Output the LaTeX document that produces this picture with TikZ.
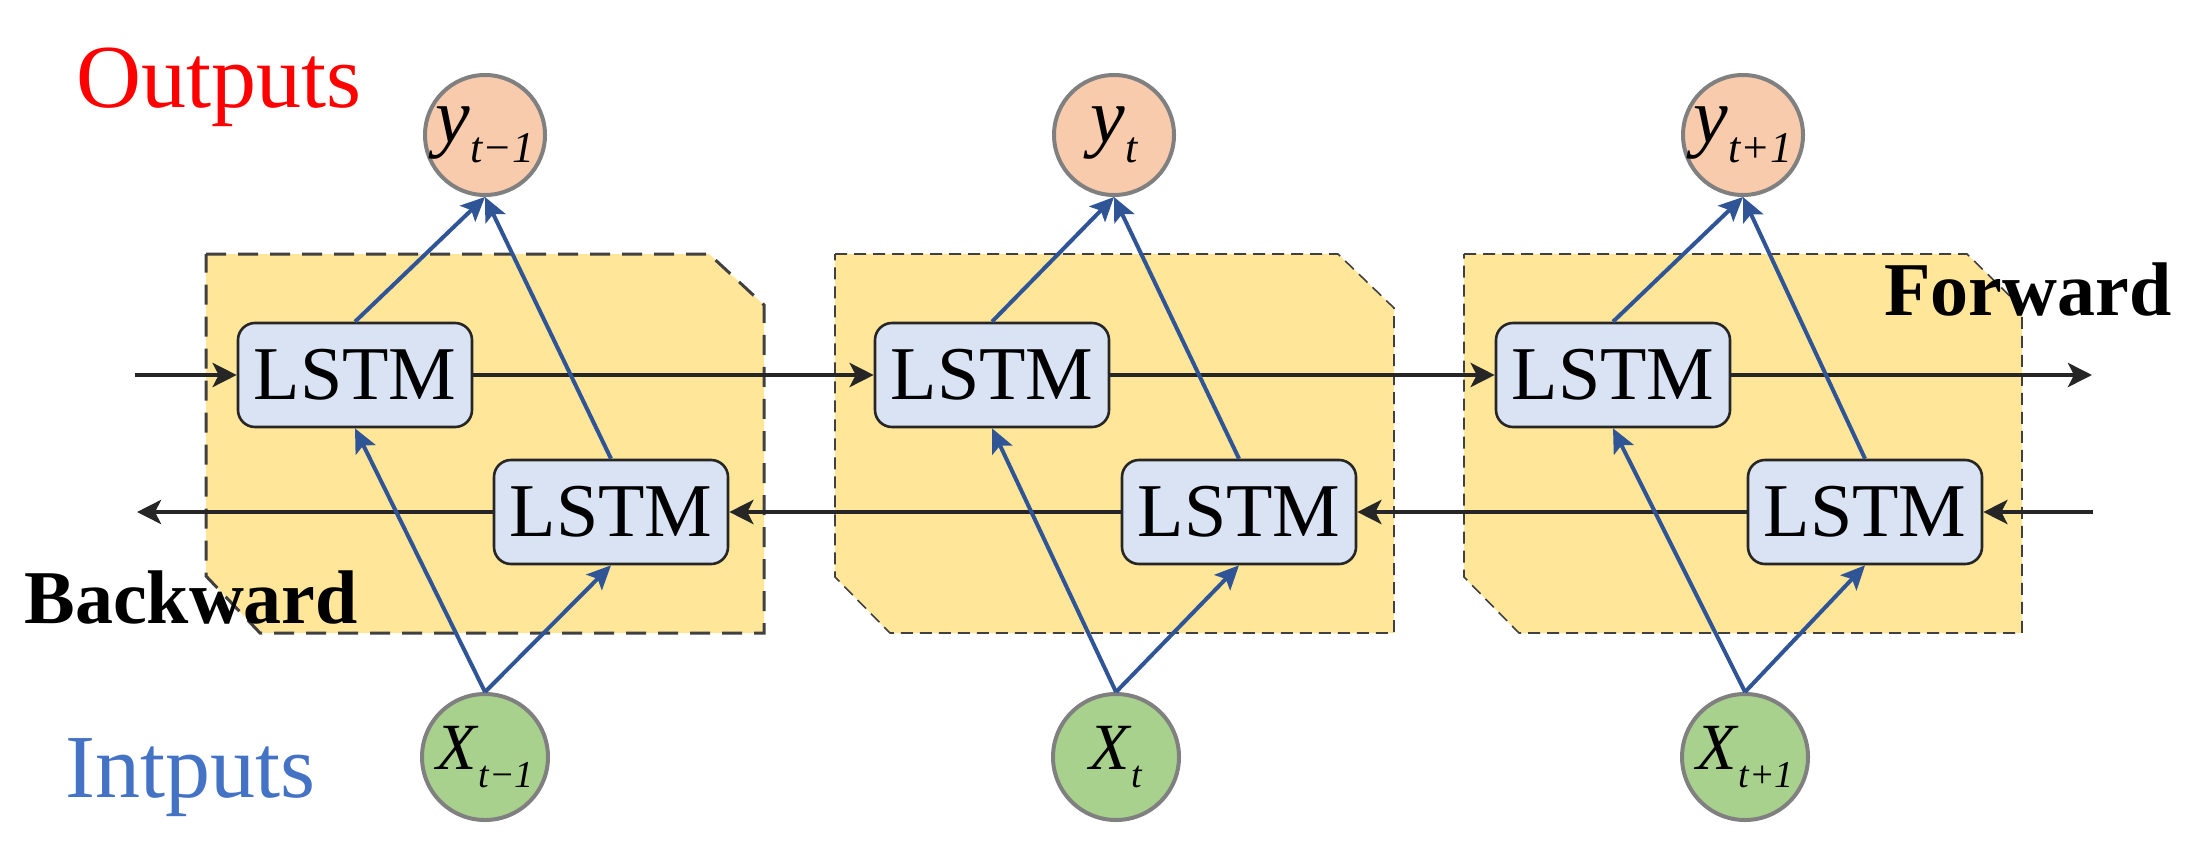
\documentclass[tikz,border=0pt]{standalone}
\usepackage{fontspec}
\setmainfont{Liberation Serif}
\usetikzlibrary{arrows.meta}
\definecolor{yframe}{HTML}{FFE699}
\definecolor{dashc}{HTML}{404040}
\definecolor{lstmfill}{HTML}{DAE3F3}
\definecolor{lstmdraw}{HTML}{262626}
\definecolor{outfill}{HTML}{F8CBAD}
\definecolor{infill}{HTML}{A9D18E}
\definecolor{ringc}{HTML}{808080}
\definecolor{blk}{HTML}{262626}
\definecolor{blu}{HTML}{2F5597}
\definecolor{outred}{HTML}{FF0000}
\definecolor{inblue}{HTML}{4472C4}
\newcommand\ylab[1]{{\fontsize{39pt}{39pt}\selectfont\itshape y\raisebox{-10pt}{\fontsize{22pt}{22pt}\selectfont #1}}}
\newcommand\xlab[1]{{\fontsize{33pt}{33pt}\selectfont\itshape X\kern1pt\raisebox{-9pt}{\fontsize{19pt}{19pt}\selectfont #1}}}
\begin{document}
\begin{tikzpicture}[x=0.5pt,y=-0.5pt,
  frame/.style={fill=yframe,draw=dashc},
  thickdash/.style={line width=1.5pt,dash pattern=on 10pt off 6pt},
  thindash/.style={line width=0.8pt,dash pattern=on 6pt off 3.5pt},
  lstm/.style={draw=lstmdraw,line width=1.3pt,fill=lstmfill,rounded corners=8.5pt,
    minimum width=117pt,minimum height=52pt,inner sep=0pt,
    font=\fontsize{38pt}{38pt}\selectfont},
  outnode/.style={circle,draw=ringc,line width=2pt,fill=outfill,minimum size=60pt,inner sep=0pt},
  innode/.style={circle,draw=ringc,line width=2pt,fill=infill,minimum size=63pt,inner sep=0pt},
  blkarrow/.style={draw=blk,line width=2.4pt,-{Stealth[length=12pt,width=12pt,inset=3pt]}},
  bluarrow/.style={draw=blu,line width=2pt,-{Stealth[length=12pt,width=11pt,inset=2.5pt]}},
  title/.style={anchor=base west,inner sep=0pt,font=\fontsize{45pt}{45pt}\selectfont},
  dirlab/.style={anchor=base west,inner sep=0pt,font=\fontsize{38pt}{38pt}\selectfont\bfseries}
]
\useasboundingbox (0,0) rectangle (2204,862);

% frames
\draw[frame,thickdash] (206,254) -- (709,254) -- (764,305) -- (764,633) -- (260,633) -- (206,576) -- cycle;
\draw[frame,thindash] (835,254) -- (1338,254) -- (1394,308) -- (1394,633) -- (890,633) -- (835,577) -- cycle;
\draw[frame,thindash] (1464,254) -- (1967,254) -- (2022,308) -- (2022,633) -- (1519,633) -- (1464,577) -- cycle;

% texts
\node[title,text=outred] (outputs) at (76,107) {Outputs};
\node[title,text=inblue] (inputs) at (65,797) {Intputs};
\node[dirlab] (backward) at (24,623) {Backward};
\node[dirlab] (forward) at (1884,315) {Forward};

% LSTM cells
\node[lstm] (u1) at (355,375) {LSTM};
\node[lstm] (u2) at (992,375) {LSTM};
\node[lstm] (u3) at (1613,375) {LSTM};
\node[lstm] (d1) at (611,512) {LSTM};
\node[lstm] (d2) at (1239,512) {LSTM};
\node[lstm] (d3) at (1865,512) {LSTM};

% outputs and inputs
\node[outnode] (y1) at (485,135) {\ylab{t−1}};
\node[outnode] (y2) at (1114,135) {\ylab{t}};
\node[outnode] (y3) at (1743,135) {\ylab{t+1}};
\node[innode] (x1) at (485,757) {\xlab{t−1}};
\node[innode] (x2) at (1116,757) {\xlab{t}};
\node[innode] (x3) at (1745,757) {\xlab{t+1}};

% free ends
\coordinate (fin) at (135,375);
\coordinate (fout) at (2092,375);
\coordinate (bin) at (2093,512);
\coordinate (bout) at (137,512);

% forward / backward chains
\draw[blkarrow] (fin) -- (u1);
\draw[blkarrow] (u1) -- (u2);
\draw[blkarrow] (u2) -- (u3);
\draw[blkarrow] (u3) -- (fout);
\draw[blkarrow] (bin) -- (d3);
\draw[blkarrow] (d3) -- (d2);
\draw[blkarrow] (d2) -- (d1);
\draw[blkarrow] (d1) -- (bout);

% blue connections
\foreach \i in {1,2,3}{
  \draw[bluarrow] (u\i.north) -- (y\i.south);
  \draw[bluarrow] (d\i.north) -- (y\i.south);
  \draw[bluarrow] (x\i.north) -- (u\i.south);
  \draw[bluarrow] (x\i.north) -- (d\i.south);
}
\end{tikzpicture}
\end{document}
